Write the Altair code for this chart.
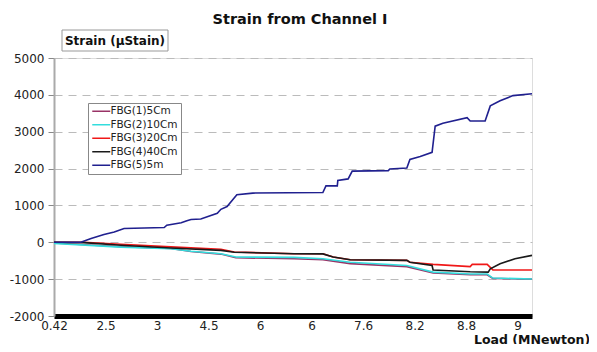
import altair as alt
import pandas as pd

# Load axis: category labels shown at evenly spaced positions 0..9
x_labels = ["0.42", "2.5", "3", "4.5", "6", "6", "7.6", "8.2", "8.8", "9"]

series_names = ["FBG(1)5Cm", "FBG(2)10Cm", "FBG(3)20Cm", "FBG(4)40Cm", "FBG(5)5m"]
series_colors = ["#993366", "#33DDDD", "#F01818", "#1A1A1A", "#20208F"]

# positions along the load axis (in label-index units) and strain values (µStrain)
fbg1_x = [0, 1.30, 2.27, 2.66, 3.24, 3.53, 4.66, 5.22, 5.75, 6.85, 7.36, 8.08, 8.41, 8.52, 9.28]
fbg1_y = [-20, -120, -170, -250, -320, -420, -445, -470, -580, -660, -830, -880, -880, -980, -1000]

fbg2_x = [0, 1.30, 2.27, 2.66, 3.24, 3.53, 4.66, 5.22, 5.75, 6.85, 7.36, 8.08, 8.41, 8.52, 9.28]
fbg2_y = [-30, -130, -175, -245, -310, -400, -410, -445, -540, -630, -810, -860, -860, -970, -995]

fbg3_x = [0, 0.58, 1.30, 2.27, 3.24, 3.50, 4.66, 5.22, 5.42, 5.75, 6.85, 6.91, 7.36, 8.08, 8.12, 8.41, 8.52, 9.28]
fbg3_y = [0, 0, -55, -125, -190, -265, -310, -310, -400, -475, -490, -540, -600, -660, -600, -600, -750, -750]

fbg4_x = [0, 0.58, 1.30, 2.27, 3.24, 3.50, 4.66, 5.22, 5.42, 5.75, 6.85, 6.91, 7.34, 7.36, 8.08, 8.43, 8.47, 8.66, 8.95, 9.28]
fbg4_y = [0, -10, -80, -155, -220, -270, -310, -315, -400, -475, -490, -540, -630, -750, -800, -810, -720, -585, -445, -355]

fbg5_x = [0, 0.52, 0.72, 0.97, 1.17, 1.36, 2.14, 2.19, 2.47, 2.58, 2.66, 2.85, 3.17, 3.24, 3.36, 3.55,
          3.86, 5.22, 5.28, 5.50, 5.51, 5.71, 5.79, 6.49, 6.52, 6.85, 6.91, 7.11, 7.34, 7.40, 7.55,
          8.02, 8.08, 8.37, 8.47, 8.66, 8.91, 9.28]
fbg5_y = [0, 0, 100, 210, 280, 375, 400, 465, 530, 585, 620, 630, 785, 895, 970, 1290,
          1335, 1350, 1530, 1530, 1680, 1720, 1930, 1945, 1990, 2015, 2250, 2330, 2440, 3150, 3230,
          3380, 3290, 3290, 3700, 3840, 3980, 4030]

y_ticks = [-2000, -1000, 0, 1000, 2000, 3000, 4000, 5000]

rows = []
for name, xs, ys in zip(series_names,
                        [fbg1_x, fbg2_x, fbg3_x, fbg4_x, fbg5_x],
                        [fbg1_y, fbg2_y, fbg3_y, fbg4_y, fbg5_y]):
    for i, (xv, yv) in enumerate(zip(xs, ys)):
        rows.append({"series": name, "load": xv, "strain": yv, "i": i})
df = pd.DataFrame(rows)

FONT = "DejaVu Sans"
label_expr = "[" + ",".join("'" + s + "'" for s in x_labels) + "][datum.value]"

lines = alt.Chart(df).mark_line(strokeWidth=1.6).encode(
    x=alt.X("load:Q",
            scale=alt.Scale(domain=[0, 9.28], nice=False, zero=False),
            axis=alt.Axis(values=list(range(len(x_labels))), labelExpr=label_expr,
                          title=None, grid=False, domainColor="#000000", domainWidth=5,
                          ticks=False, labelPadding=4, labelFont=FONT, labelFontSize=12,
                          labelColor="#222222", labelFlush=False)),
    y=alt.Y("strain:Q",
            scale=alt.Scale(domain=[-2000, 5000], nice=False),
            axis=alt.Axis(values=y_ticks, labelExpr="toString(datum.value)", title=None,
                          grid=True, gridColor="#BBBBBB",
                          gridDash=[8, 6], gridWidth=1.2, domainColor="#AAAAAA", domainWidth=2,
                          tickColor="#888888", tickSize=6, labelPadding=4, labelFont=FONT,
                          labelFontSize=12, labelColor="#222222")),
    color=alt.Color("series:N",
                    scale=alt.Scale(domain=series_names, range=series_colors),
                    legend=alt.Legend(title=None, orient="none", legendX=34, legendY=45,
                                      symbolType="M-1,0L3.5,0", symbolSize=64,
                                      symbolStrokeWidth=1.5, labelFont=FONT,
                                      labelFontSize=10.5, labelColor="#222222",
                                      padding=3, strokeColor="#888888", fillColor="white",
                                      rowPadding=2.5, labelOffset=9)),
    order=alt.Order("i:Q"),
    detail="series:N",
)

one = pd.DataFrame({"k": [0]})

ytitle_box = alt.Chart(one).mark_rect(fill="white", stroke="#999999", strokeWidth=1).encode(
    x=alt.value(8), x2=alt.value(114), y=alt.value(-28), y2=alt.value(-7)
)
ytitle = alt.Chart(one).mark_text(font=FONT, fontSize=12, fontWeight="bold", color="#111111",
                                  align="center", baseline="middle").encode(
    x=alt.value(61), y=alt.value(-17.5), text=alt.value("Strain (μStain)")
)
main_title = alt.Chart(one).mark_text(font=FONT, fontSize=14.5, fontWeight="bold", color="#111111",
                                      align="center", baseline="middle").encode(
    x=alt.value(246), y=alt.value(-38), text=alt.value("Strain from Channel I")
)
xtitle = alt.Chart(one).mark_text(font=FONT, fontSize=12.5, fontWeight="bold", color="#111111",
                                  align="left", baseline="alphabetic").encode(
    x=alt.value(420), y=alt.value(285.5), text=alt.value("Load (MNewton)")
)

chart = alt.layer(lines, ytitle_box, ytitle, main_title, xtitle).properties(
    width=478, height=258,
    autosize=alt.AutoSizeParams(type="none"),
    padding={"left": 46, "top": 50, "right": 57, "bottom": 28},
).configure_view(stroke=None).configure(background="white")

chart.save("out.html", embed_options={"renderer": "svg", "actions": False})
